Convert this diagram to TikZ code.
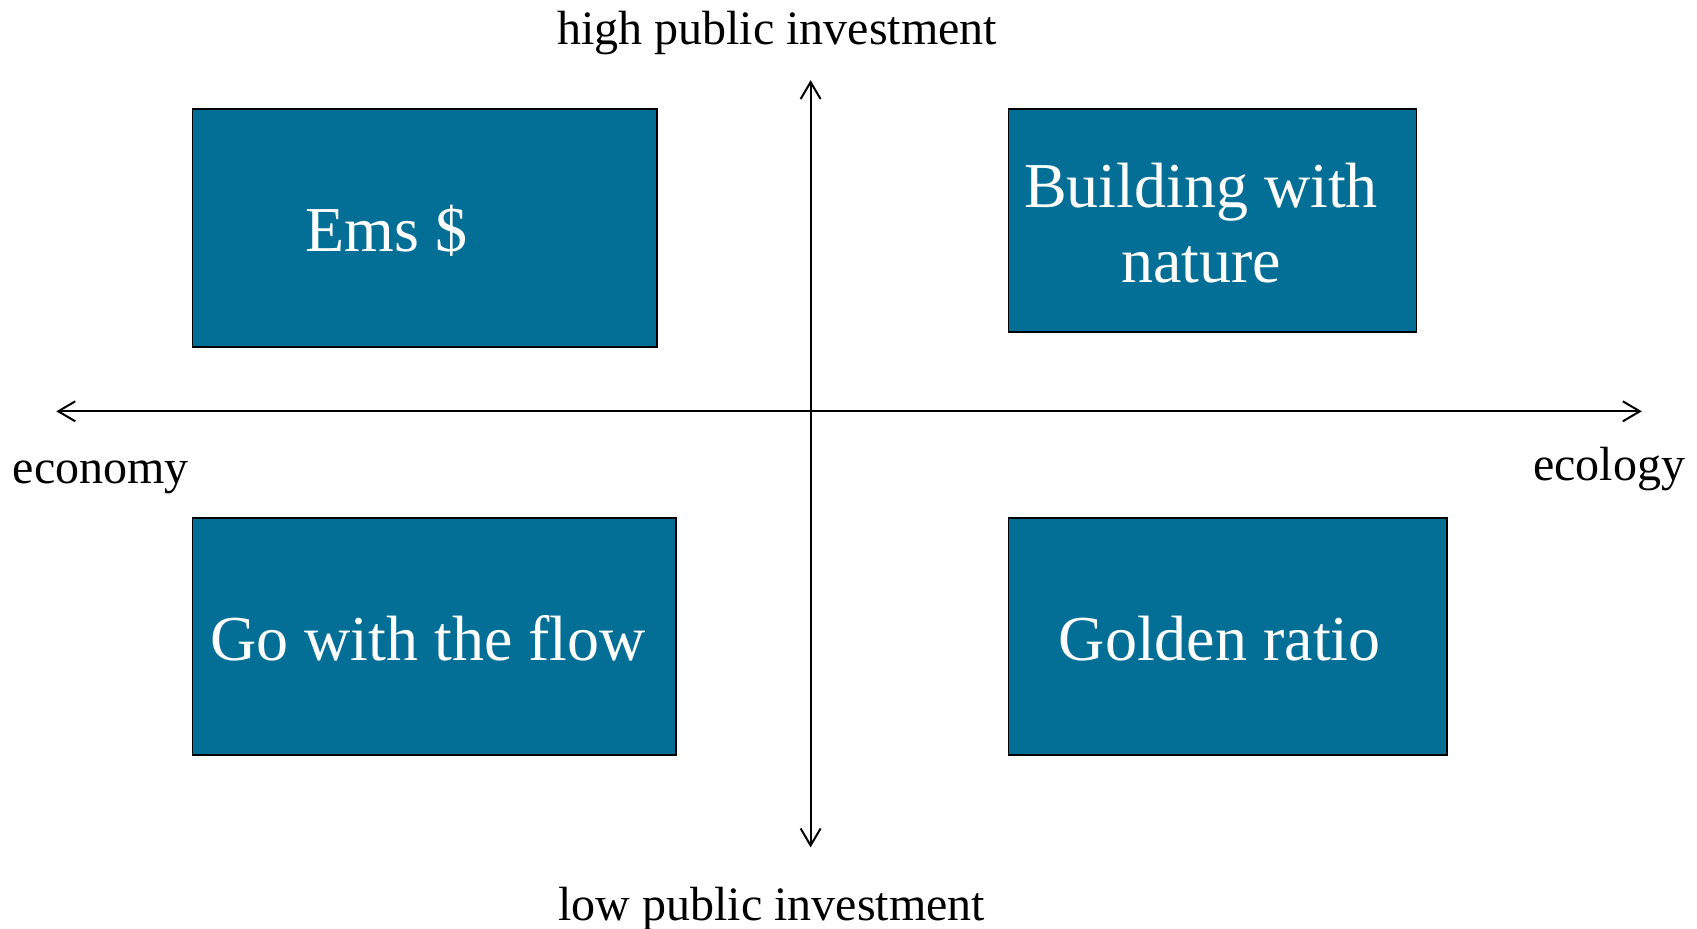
\documentclass[tikz,border=0pt]{standalone}
\usepackage{fontspec}
\setmainfont{Liberation Serif}
\usepackage{xcolor}
\usetikzlibrary{arrows.meta}
\definecolor{quadblue}{RGB}{4,111,150}

\begin{document}
\begin{tikzpicture}[x=0.5pt,y=-0.5pt,>={Straight Barb[length=8.5pt,width=10pt]},line width=1pt,
    quad node/.style={draw=black,line width=0.8pt,fill=quadblue,anchor=north west,inner sep=0pt},
    quad text/.style={text=white,font=\fontsize{32}{37.5}\selectfont,align=center},
    axis label/.style={font=\fontsize{24}{28}\selectfont}]

            \useasboundingbox (0,0) rectangle (1697,928);

            % quadrant boxes
            \node[quad node, minimum width=232.2pt, minimum height=119pt] (ems) at (191.6,108.2) {};
            \node[quad node, minimum width=204pt, minimum height=111.5pt] (bwn) at (1007.6,108.2) {};
            \node[quad node, minimum width=241.9pt, minimum height=118.5pt] (flow) at (191.6,517.3) {};
            \node[quad node, minimum width=219.2pt, minimum height=118.5pt] (golden) at (1007.6,517.3) {};

            \node[quad text] (emstext) at (386.4,230.5) {Ems \$};
            \node[quad text] (bwntext) at (1201,223.5) {Building with\\nature};
            \node[quad text] (flowtext) at (428,638.6) {Go with the flow};
            \node[quad text] (goldentext) at (1219.8,638.6) {Golden ratio};

            % axes
            \coordinate (west) at (56.3,411.3);
            \coordinate (east) at (1641.8,411.3);
            \coordinate (top) at (810.6,80.1);
            \coordinate (bottom) at (810.6,847.4);

            \draw[<->] (west) -- (east);
            \draw[<->] (top) -- (bottom);

            \node[axis label] (high) at (777,33) {high public investment};
            \node[axis label] (low) at (771.7,909) {low public investment};
            \node[axis label] (economy) at (100.8,477.5) {economy};
            \node[axis label] (ecology) at (1609,468.6) {ecology};

        \end{tikzpicture}
\end{document}
